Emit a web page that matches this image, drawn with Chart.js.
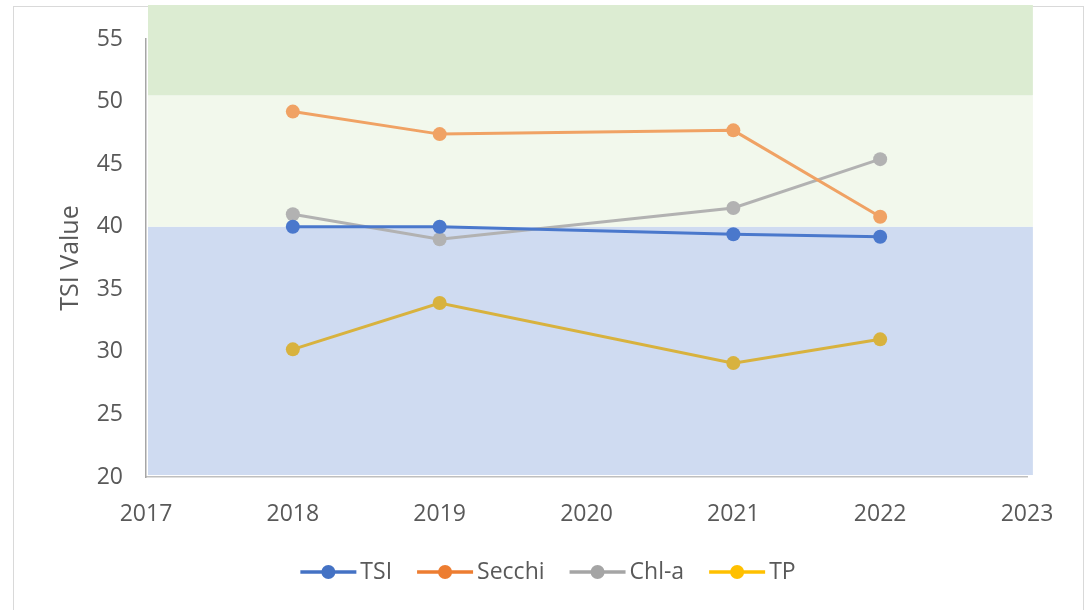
<!DOCTYPE html>
<html>
<head>
<meta charset="utf-8">
<script src="https://cdn.jsdelivr.net/npm/chart.js@4/dist/chart.umd.min.js"></script>
<style>
  html, body { margin: 0; padding: 0; background: #fff; }
  #wrap { position: relative; width: 1091px; height: 610px; overflow: hidden; }
  #frame { position: absolute; left: 13px; top: 6px; width: 1071px; height: 640px;
           border: 1.5px solid #d9d9d9; box-sizing: border-box; }
  canvas { position: absolute; left: 0; top: 0; }
</style>
</head>
<body>
<div id="wrap">
  <div id="frame"></div>
  <canvas id="chart" width="1091" height="610"></canvas>
</div>
<script>
/* TSI values by year */

const years = [2018, 2019, 2021, 2022];
const seriesNames = ['TSI', 'Secchi', 'Chl-a', 'TP'];
const tsiValues = [40.0, 40.0, 39.4, 39.2];
const secchiValues = [49.2, 47.4, 47.7, 40.8];
const chlaValues = [41.0, 39.0, 41.5, 45.4];
const tpValues = [30.2, 33.9, 29.1, 31.0];

const xMin = 2017, xMax = 2023, xStep = 1;
const yMin = 20, yMax = 55, yStep = 5;

// trophic state bands (value ranges on the y axis)
const bandFrom = [20, 40, 50.5];
const bandTo = [40, 50.5, 57.8];
const bandColors = ['#cfdbf1', '#f2f8ec', '#dcecd2'];

const lineColors = ['#4a78cc', '#f0a264', '#b2b2b2', '#d8b23e'];
const legendColors = ['#4472C4', '#ED7D31', '#A5A5A5', '#FFC000'];

const FONT = "'Open Sans', 'Noto Sans', sans-serif";
const TEXT = '#595959';

const allValues = [tsiValues, secchiValues, chlaValues, tpValues];

function toPoints( values ) {
    return years.map(( yr, i ) => ({ x: yr, y: values[i] }));
}

const bandPlugin = {
    id: 'bands',
    beforeDatasetsDraw( chart ) {
        const { ctx, scales } = chart;
        const x0 = scales.x.getPixelForValue( xMin ) + 2;
        const x1 = scales.x.getPixelForValue( xMax + 0.04 );
        ctx.save();
        for ( let i = 0; i < bandFrom.length; i++ ) {
            const yTop = Math.max( 5, scales.y.getPixelForValue( bandTo[i] ) );
            const yBot = scales.y.getPixelForValue( bandFrom[i] ) - ( i == 0 ? 2 : 0 );
            ctx.fillStyle = bandColors[i];
            ctx.fillRect( x0, yTop, x1 - x0, yBot - yTop );
        }
        ctx.restore();
    }
};

// legend like the spreadsheet one: line with a dot, then the name
const legendPlugin = {
    id: 'lineLegend',
    afterDraw( chart ) {
        const ctx = chart.ctx;
        const lineLen = 56, textGap = 4, itemGap = 25, cy = 572;
        ctx.save();
        ctx.font = '23px ' + FONT;
        const widths = seriesNames.map( n => lineLen + textGap + ctx.measureText( n ).width );
        const total = widths.reduce(( a, b ) => a + b, 0 ) + itemGap * ( widths.length - 1 );
        let x = 548 - total / 2;
        seriesNames.forEach(( name, i ) => {
            ctx.strokeStyle = legendColors[i];
            ctx.lineWidth = 3.5;
            ctx.beginPath();
            ctx.moveTo( x, cy );
            ctx.lineTo( x + lineLen, cy );
            ctx.stroke();
            ctx.fillStyle = legendColors[i];
            ctx.beginPath();
            ctx.arc( x + lineLen / 2, cy, 7, 0, Math.PI * 2 );
            ctx.fill();
            ctx.fillStyle = TEXT;
            ctx.textBaseline = 'middle';
            ctx.textAlign = 'left';
            ctx.fillText( name, x + lineLen + textGap, cy );
            x += widths[i] + itemGap;
        });
        ctx.restore();
    }
};

const ctx = document.getElementById('chart').getContext('2d');

const chart = new Chart(ctx, {
    type: 'line',
    data: {
        datasets: seriesNames.map(( name, i ) => ({
            label: name,
            data: toPoints( allValues[i] ),
            borderColor: lineColors[i],
            backgroundColor: lineColors[i],
            borderWidth: 3,
            pointRadius: 7,
            pointBorderWidth: 0,
            fill: false,
            tension: 0
        }))
    },
    options: {
        responsive: false,
        animation: false,
        layout: {
            padding: { left: 56, right: 64, top: 39, bottom: 0 }
        },
        plugins: {
            legend: { display: false },
            tooltip: { enabled: false }
        },
        scales: {
            x: {
                type: 'linear',
                min: xMin,
                max: xMax,
                grid: { display: false, drawTicks: false },
                border: { display: true, color: '#bfbfbf', width: 1.5 },
                ticks: {
                    stepSize: xStep,
                    padding: 24,
                    color: TEXT,
                    font: { family: FONT, size: 23 },
                    callback: v => String( v )
                },
                afterFit( scale ) { scale.height = 610 - 477; }
            },
            y: {
                min: yMin,
                max: yMax,
                grid: { display: false, drawTicks: false },
                border: { display: true, color: '#a6a6a6', width: 1.5 },
                ticks: {
                    stepSize: yStep,
                    padding: 23,
                    color: TEXT,
                    font: { family: FONT, size: 23 }
                },
                title: {
                    display: true,
                    text: 'TSI Value',
                    color: TEXT,
                    font: { family: FONT, size: 25 },
                    padding: 0
                },
                afterFit( scale ) { scale.width = 146 - 56; }
            }
        }
    },
    plugins: [ bandPlugin, legendPlugin ]
});
</script>
</body>
</html>
